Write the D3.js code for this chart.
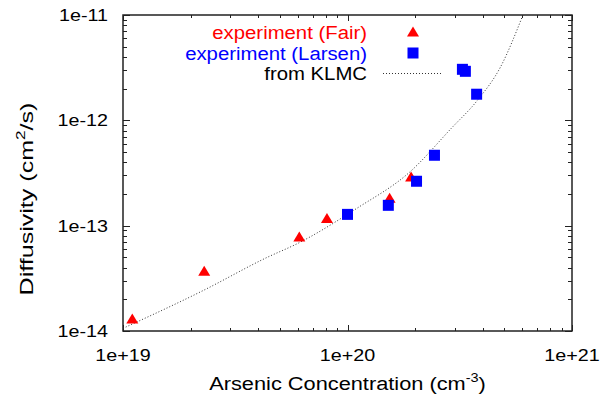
<!DOCTYPE html>
<html>
<head>
<meta charset="utf-8">
<script src="https://cdn.jsdelivr.net/npm/d3@7"></script>
<style>
  html, body { margin: 0; padding: 0; background: #fff; }
  svg { display: block; }
  text { font-family: "Liberation Sans", Arial, Helvetica, sans-serif; }
</style>
</head>
<body>
<svg id="chart" width="615" height="400"></svg>
<script>
// Arsenic diffusivity in silicon versus concentration
const fairConc = [1.1e19, 2.3e19, 6.1e19, 8.1e19, 1.54e20, 1.92e20];
const fairDiff = [1.30e-14, 3.7e-14, 7.8e-14, 1.17e-13, 1.82e-13, 2.9e-13];

const larsenConc = [1.0e20, 1.52e20, 2.03e20, 2.44e20, 3.25e20, 3.35e20, 3.76e20];
const larsenDiff = [1.28e-13, 1.56e-13, 2.64e-13, 4.66e-13, 3.05e-12, 2.92e-12, 1.77e-12];

const klmcConc = [1.0e19, 2.3e19, 4.3e19, 6.1e19, 1.1e20, 1.9e20, 2.9e20, 3.8e20, 4.8e20, 6.0e20, 6.1e20];
const klmcDiff = [1.06e-14, 2.45e-14, 4.9e-14, 6.9e-14, 1.46e-13, 3.25e-13, 8.4e-13, 1.56e-12, 3.2e-12, 9.6e-12, 1.05e-11];

const xTickValues = [1e19, 1e20, 1e21];
const xTickLabels = ["1e+19", "1e+20", "1e+21"];
const yTickValues = [1e-14, 1e-13, 1e-12, 1e-11];
const yTickLabels = ["1e-14", "1e-13", "1e-12", "1e-11"];

const legendLabels = ["experiment (Fair)", "experiment (Larsen)", "from KLMC"];

const plotL = 123, plotR = 572, plotT = 15, plotB = 331;
const FONT = 17, SX = 1.16;

const svg = d3.select("#chart");

const x = d3.scaleLog().domain([1e19, 1e21]).range([plotL, plotR]);
const y = d3.scaleLog().domain([1e-14, 1e-11]).range([plotB, plotT]);

// text helper: slightly widened glyphs
function label(g, px, py, str, anchor, fill, size, sx) {
  return g.append("text")
    .attr("transform", `translate(${px},${py}) scale(${sx || SX},1)`)
    .attr("text-anchor", anchor)
    .attr("font-size", size || FONT)
    .attr("fill", fill || "#000")
    .text(str);
}

const axisColor = "#222";

// tick marks on all four sides (inward)
const ticks = svg.append("g").attr("stroke", axisColor).attr("stroke-width", 1);
const isMajor = v => Math.abs(Math.log10(v) - Math.round(Math.log10(v))) < 1e-6;

x.ticks().forEach(v => {
  const px = Math.round(x(v)) + 0.5;
  const len = isMajor(v) ? 6 : 3;
  ticks.append("line").attr("x1", px).attr("x2", px).attr("y1", plotB).attr("y2", plotB - len);
  ticks.append("line").attr("x1", px).attr("x2", px).attr("y1", plotT).attr("y2", plotT + len);
});
y.ticks().forEach(v => {
  const py = Math.round(y(v)) + 0.5;
  const len = isMajor(v) ? 7 : 4;
  ticks.append("line").attr("x1", plotL).attr("x2", plotL + len).attr("y1", py).attr("y2", py);
  ticks.append("line").attr("x1", plotR).attr("x2", plotR - len).attr("y1", py).attr("y2", py);
});

// frame
svg.append("rect")
  .attr("x", plotL).attr("y", plotT)
  .attr("width", plotR - plotL).attr("height", plotB - plotT)
  .attr("fill", "none").attr("stroke", axisColor).attr("stroke-width", 1.5);

// tick labels
const labels = svg.append("g");
xTickValues.forEach((v, i) => label(labels, x(v), 361, xTickLabels[i], "middle"));
yTickValues.forEach((v, i) => label(labels, 108, y(v) + 6, yTickLabels[i], "end"));

// axis titles
const xt = labels.append("text")
  .attr("transform", `translate(${(plotL + plotR) / 2},390) scale(1.21,1)`)
  .attr("text-anchor", "middle").attr("font-size", 18);
xt.append("tspan").text("Arsenic Concentration (cm");
xt.append("tspan").attr("font-size", 12).attr("dy", -8).text("-3");
xt.append("tspan").attr("dy", 8).text(")");

const yt = labels.append("text")
  .attr("transform", `translate(33,199) rotate(-90) scale(1.32,1)`)
  .attr("text-anchor", "middle").attr("font-size", 19);
yt.append("tspan").text("Diffusivity (cm");
yt.append("tspan").attr("font-size", 13).attr("dy", -8).text("2");
yt.append("tspan").attr("dy", 8).text("/s)");

// clip region for the model curve
svg.append("defs").append("clipPath").attr("id", "plotClip")
  .append("rect").attr("x", plotL).attr("y", plotT)
  .attr("width", plotR - plotL).attr("height", plotB - plotT);

// KLMC curve, dotted
const line = d3.line()
  .x(d => x(d[0])).y(d => y(d[1]))
  .curve(d3.curveMonotoneX);
svg.append("path")
  .datum(klmcConc.map((c, i) => [c, klmcDiff[i]]))
  .attr("clip-path", "url(#plotClip)")
  .attr("d", line)
  .attr("fill", "none")
  .attr("stroke", "#333")
  .attr("stroke-width", 1)
  .attr("stroke-dasharray", "1,2");

// marker shapes
const triPath = (cx, cy) => `M${cx - 6},${cy + 4.5}L${cx + 6},${cy + 4.5}L${cx},${cy - 5.5}Z`;
const sqSize = 11;

svg.append("g").selectAll("path")
  .data(fairConc.map((c, i) => [c, fairDiff[i]]))
  .join("path")
  .attr("d", d => triPath(x(d[0]), y(d[1])))
  .attr("fill", "#ff0000");

svg.append("g").selectAll("rect")
  .data(larsenConc.map((c, i) => [c, larsenDiff[i]]))
  .join("rect")
  .attr("x", d => x(d[0]) - sqSize / 2)
  .attr("y", d => y(d[1]) - sqSize / 2)
  .attr("width", sqSize).attr("height", sqSize)
  .attr("fill", "#0000ff");

// legend
const lg = svg.append("g");
const legendColors = ["#ff0000", "#0000ff", "#000"];
const rowY = [32, 53, 73];
legendLabels.forEach((t, i) => label(lg, 367, rowY[i] + 6.5, t, "end", legendColors[i], 18, 1.13));
lg.append("path").attr("d", triPath(413, rowY[0])).attr("fill", "#ff0000");
lg.append("rect").attr("x", 413 - sqSize / 2).attr("y", rowY[1] - sqSize / 2)
  .attr("width", sqSize).attr("height", sqSize).attr("fill", "#0000ff");
lg.append("line").attr("x1", 383).attr("x2", 443).attr("y1", rowY[2] + 0.5).attr("y2", rowY[2] + 0.5)
  .attr("stroke", "#333").attr("stroke-width", 1).attr("stroke-dasharray", "1,2");
</script>
</body>
</html>
